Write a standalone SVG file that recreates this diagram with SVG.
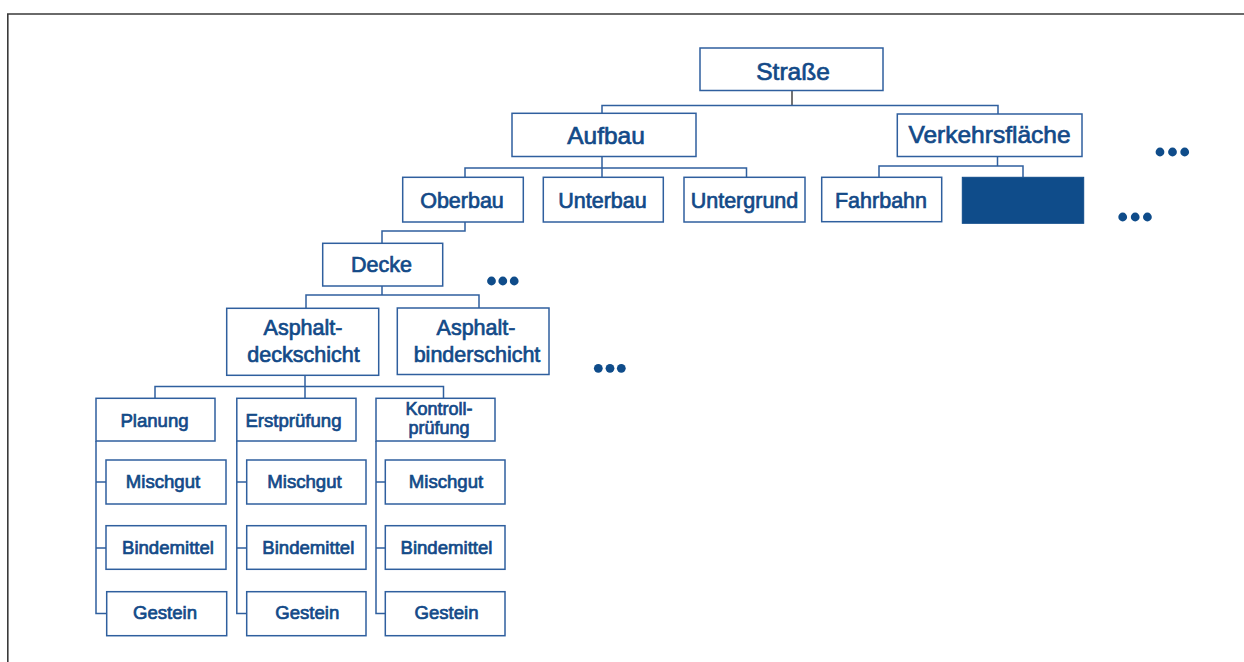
<svg xmlns="http://www.w3.org/2000/svg" width="1244" height="662" viewBox="0 0 1244 662">
  <style>
    .box { fill: #ffffff; stroke: #2f5f9e; stroke-width: 1.5; }
    .solid { fill: #0f4c8a; stroke: #0f4c8a; stroke-width: 1; }
    .t { font-family: "Liberation Sans", Arial, sans-serif; fill: #134a88; stroke: #134a88; stroke-width: 0.7; text-anchor: middle; }
    .l1 { font-size: 24.5px; }
    .l2 { font-size: 21.5px; }
    .l3 { font-size: 18.6px; }
    .l3s { font-size: 18px; }
    .wire { fill: none; stroke: #2f5f9e; stroke-width: 1.5; }
    .dot { fill: #0f4c8a; }
  </style>

  <!-- page frame -->
  <path d="M7.8,662 V14 H1244" fill="none" stroke="#3a3a3a" stroke-width="1.6"/>

  <!-- connectors -->
  <g id="connectors">
    <path d="M792,90.5 V105.5" fill="none" stroke="#444444" stroke-width="1.5"/>
    <path class="wire" d="M602,113 V105.5 H998 V114"/>
    <path class="wire" d="M602,156.5 V177 M465,177 V168 H746.5 V177"/>
    <path class="wire" d="M997.5,156.5 V166 M879,177 V166 H1023 V177"/>
    <path class="wire" d="M465,222 V231 H382 V243.5"/>
    <path class="wire" d="M382,286 V295 M306,308.5 V295 H479 V308.5"/>
    <path class="wire" d="M305,375 V398 M155,398 V386.5 H443.5 V398"/>
    <path class="wire" d="M96,441 V613.5 H106.5 M96,482 H106 M96,548 H106"/>
    <path class="wire" d="M236.8,441 V613.5 H247 M236.8,482 H247 M236.8,548 H247"/>
    <path class="wire" d="M376,441 V613.5 H385.5 M376,482 H385.5 M376,548 H385.5"/>
  </g>

  <!-- top level -->
  <g id="strasse">
    <rect class="box" x="700" y="48" width="183" height="42.5"/>
    <text class="t l1" x="793" y="79.5">Straße</text>
  </g>
  <g id="aufbau">
    <rect class="box" x="512" y="113.3" width="184" height="43.2"/>
    <text class="t l1" x="606" y="143.5">Aufbau</text>
  </g>
  <g id="verkehrsflaeche">
    <rect class="box" x="897.3" y="114" width="184.7" height="42.5"/>
    <text class="t l1" x="989.5" y="143">Verkehrsfläche</text>
  </g>

  <!-- second level -->
  <g id="oberbau">
    <rect class="box" x="402.7" y="177.3" width="120.6" height="44.7"/>
    <text class="t l2" x="462" y="208.3">Oberbau</text>
  </g>
  <g id="unterbau">
    <rect class="box" x="543.3" y="177.3" width="120" height="44.7"/>
    <text class="t l2" x="602.5" y="208.3">Unterbau</text>
  </g>
  <g id="untergrund">
    <rect class="box" x="684" y="177.3" width="121" height="44.7"/>
    <text class="t l2" x="744.5" y="208.3">Untergrund</text>
  </g>
  <g id="fahrbahn">
    <rect class="box" x="821.7" y="177.3" width="120" height="44.4"/>
    <text class="t l2" x="881" y="207.8">Fahrbahn</text>
  </g>
  <g id="verdeckt">
    <rect class="solid" x="962.3" y="177.3" width="121.4" height="46"/>
  </g>
  <g id="mehr-verkehrsflaeche">
    <circle class="dot" cx="1160" cy="152" r="4.4"/>
    <circle class="dot" cx="1172.5" cy="152" r="4.4"/>
    <circle class="dot" cx="1184.7" cy="152" r="4.4"/>
  </g>
  <g id="mehr-fahrbahn">
    <circle class="dot" cx="1122.7" cy="217" r="4.4"/>
    <circle class="dot" cx="1135.2" cy="217" r="4.4"/>
    <circle class="dot" cx="1147.4" cy="217" r="4.4"/>
  </g>

  <!-- third level -->
  <g id="decke">
    <rect class="box" x="322.7" y="243.3" width="120" height="42.7"/>
    <text class="t l2" x="381.5" y="271.7">Decke</text>
  </g>
  <g id="mehr-decke">
    <circle class="dot" cx="491.5" cy="281" r="4.4"/>
    <circle class="dot" cx="502.8" cy="281" r="4.4"/>
    <circle class="dot" cx="514.2" cy="281" r="4.4"/>
  </g>
  <g id="asphaltdeckschicht">
    <rect class="box" x="226.7" y="308.3" width="152" height="67"/>
    <text class="t l2" x="303" y="335">Asphalt-</text>
    <text class="t l2" x="303.5" y="361.7">deckschicht</text>
  </g>
  <g id="asphaltbinderschicht">
    <rect class="box" x="397.3" y="308" width="151.7" height="66.5"/>
    <text class="t l2" x="476" y="335">Asphalt-</text>
    <text class="t l2" x="477" y="361.7">binderschicht</text>
  </g>
  <g id="mehr-schichten">
    <circle class="dot" cx="598.3" cy="368.3" r="4.4"/>
    <circle class="dot" cx="610" cy="368.3" r="4.4"/>
    <circle class="dot" cx="621.3" cy="368.3" r="4.4"/>
  </g>

  <!-- test phases -->
  <g id="planung">
    <rect class="box" x="96" y="398.3" width="119" height="42.7"/>
    <text class="t l3" x="154.5" y="426.5">Planung</text>
  </g>
  <g id="erstpruefung">
    <rect class="box" x="236.8" y="398.3" width="119.2" height="42.7"/>
    <text class="t l3" x="293.5" y="426.5">Erstprüfung</text>
  </g>
  <g id="kontrollpruefung">
    <rect class="box" x="376" y="398.3" width="119" height="42.7"/>
    <text class="t l3s" x="439" y="414.5">Kontroll-</text>
    <text class="t l3s" x="439" y="433.8">prüfung</text>
  </g>

  <!-- materials under Planung -->
  <g id="planung-mischgut">
    <rect class="box" x="106" y="460" width="120" height="44"/>
    <text class="t l3" x="163" y="487.5">Mischgut</text>
  </g>
  <g id="planung-bindemittel">
    <rect class="box" x="106" y="525.7" width="120" height="43.6"/>
    <text class="t l3" x="168" y="554.3">Bindemittel</text>
  </g>
  <g id="planung-gestein">
    <rect class="box" x="106.7" y="591.7" width="120" height="44"/>
    <text class="t l3" x="165" y="618.5">Gestein</text>
  </g>

  <!-- materials under Erstprüfung -->
  <g id="erst-mischgut">
    <rect class="box" x="246.7" y="460" width="119.3" height="44"/>
    <text class="t l3" x="304.5" y="487.5">Mischgut</text>
  </g>
  <g id="erst-bindemittel">
    <rect class="box" x="246.7" y="525.7" width="119.3" height="43.6"/>
    <text class="t l3" x="308.3" y="554.3">Bindemittel</text>
  </g>
  <g id="erst-gestein">
    <rect class="box" x="246.7" y="591.7" width="119.3" height="44"/>
    <text class="t l3" x="307.3" y="618.5">Gestein</text>
  </g>

  <!-- materials under Kontrollprüfung -->
  <g id="kontroll-mischgut">
    <rect class="box" x="385.3" y="460" width="119.7" height="44"/>
    <text class="t l3" x="446" y="487.5">Mischgut</text>
  </g>
  <g id="kontroll-bindemittel">
    <rect class="box" x="385.3" y="525.7" width="119.7" height="43.6"/>
    <text class="t l3" x="446.5" y="554.3">Bindemittel</text>
  </g>
  <g id="kontroll-gestein">
    <rect class="box" x="385.3" y="591.7" width="119.7" height="44"/>
    <text class="t l3" x="446.5" y="618.5">Gestein</text>
  </g>
</svg>
